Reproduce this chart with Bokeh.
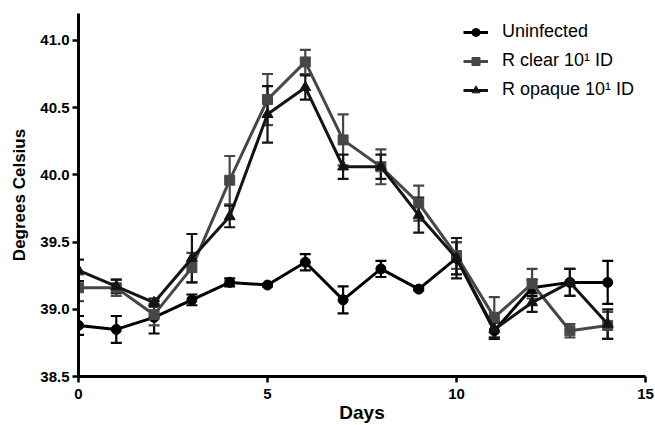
from bokeh.plotting import figure
from bokeh.models import (ColumnDataSource, Whisker, TeeHead, Legend, LegendItem,
                          Range1d, FixedTicker, NumeralTickFormatter)
from bokeh.embed import file_html
from bokeh.resources import INLINE

days = list(range(15))
uninf_mean = [38.88, 38.85, 38.94, 39.07, 39.20, 39.18, 39.35, 39.07, 39.30, 39.15, 39.38, 38.84, 39.16, 39.20, 39.20]
uninf_err = [0.07, 0.10, 0.12, 0.04, 0.03, 0.01, 0.06, 0.10, 0.06, 0.01, 0.12, 0.06, 0.06, 0.10, 0.16]
clear_mean = [39.16, 39.16, 38.96, 39.31, 39.96, 40.56, 40.84, 40.26, 40.06, 39.79, 39.40, 38.94, 39.19, 38.84, 38.88]
clear_err = [0.10, 0.06, 0.08, 0.11, 0.18, 0.19, 0.09, 0.19, 0.13, 0.13, 0.10, 0.15, 0.11, 0.05, 0.10]
opaque_mean = [39.29, 39.17, 39.05, 39.38, 39.69, 40.45, 40.65, 40.06, 40.06, 39.70, 39.38, 38.85, 39.05, 39.20, 38.89]
opaque_err = [0.08, 0.05, 0.03, 0.18, 0.08, 0.21, 0.09, 0.09, 0.09, 0.13, 0.15, 0.06, 0.07, 0.10, 0.11]

series_names = ["Uninfected", "R clear 10\u00b9 ID", "R opaque 10\u00b9 ID"]
x_ticks = [0, 5, 10, 15]
y_ticks = [38.5, 39.0, 39.5, 40.0, 40.5, 41.0]

FONT = "Liberation Sans"

p = figure(width=655, height=425, output_backend="svg", toolbar_location=None,
           x_range=Range1d(0, 15), y_range=Range1d(38.5, 41.2),
           min_border_left=78, min_border_right=10, min_border_top=13, min_border_bottom=45)
p.outline_line_color = None
p.xgrid.visible = False
p.ygrid.visible = False
p.background_fill_color = "white"

for ax in (p.xaxis[0], p.yaxis[0]):
    ax.axis_line_width = 3
    ax.axis_line_color = "black"
    ax.major_tick_line_width = 2.5
    ax.major_tick_line_color = "black"
    ax.major_tick_out = 6
    ax.major_tick_in = 0
    ax.minor_tick_line_color = None
    ax.major_label_text_font = FONT
    ax.major_label_text_font_style = "bold"
    ax.major_label_text_font_size = "15px"
    ax.major_label_text_color = "black"
    ax.axis_label_text_font = FONT
    ax.axis_label_text_font_style = "bold"
    ax.axis_label_text_color = "black"

p.xaxis[0].ticker = FixedTicker(ticks=x_ticks)
p.yaxis[0].ticker = FixedTicker(ticks=y_ticks)
p.yaxis[0].formatter = NumeralTickFormatter(format="0.0")
p.xaxis[0].major_label_standoff = 6
p.yaxis[0].major_label_standoff = 3
p.yaxis[0].axis_label = "Degrees Celsius"
p.yaxis[0].axis_label_text_font_size = "17px"
p.yaxis[0].axis_label_standoff = 8
p.xaxis[0].axis_label = "Days"
p.xaxis[0].axis_label_text_font_size = "19px"
p.xaxis[0].axis_label_standoff = 0

specs = [
    (uninf_mean, uninf_err, "black", "circle", 10),
    (clear_mean, clear_err, "#474747", "square", 10),
    (opaque_mean, opaque_err, "#141414", "triangle", 11),
]

items = []
for (mean, err, color, marker, size), name in zip(specs, series_names):
    src = ColumnDataSource(dict(x=days, y=mean,
                                lo=[m - e for m, e in zip(mean, err)],
                                hi=[m + e for m, e in zip(mean, err)]))
    w = Whisker(base="x", upper="hi", lower="lo", source=src, dimension="height",
                line_color=color, line_width=2.2,
                upper_head=TeeHead(size=11, line_color=color, line_width=2.2),
                lower_head=TeeHead(size=11, line_color=color, line_width=2.2))
    p.add_layout(w)
    ln = p.line("x", "y", source=src, line_color=color, line_width=3)
    sc = p.scatter("x", "y", source=src, marker=marker, size=size,
                   fill_color=color, line_color=color)
    items.append(LegendItem(label=name, renderers=[ln, sc]))

legend = Legend(items=items, location=(385, 276), padding=0, margin=0, spacing=8,
                glyph_width=25, glyph_height=20, label_height=20,
                label_text_font=FONT, label_text_font_size="18px",
                label_text_color="black", label_standoff=14,
                border_line_color=None, background_fill_alpha=0)
p.add_layout(legend)

open("out.html", "w").write(file_html(p, INLINE))
